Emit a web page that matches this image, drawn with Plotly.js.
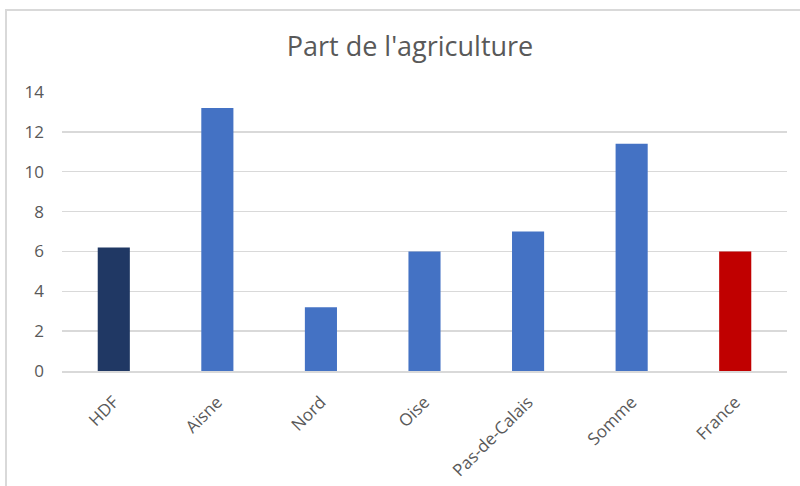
<!DOCTYPE html>
<html>
<head>
<meta charset="utf-8">
<script src="https://cdn.plot.ly/plotly-3.0.1.min.js"></script>
<style>
html,body{margin:0;padding:0;background:#fff;}
#chart{width:800px;height:486px;}
</style>
</head>
<body>
<div id="chart"></div>
<script>
const categories = ["HDF", "Aisne", "Nord", "Oise", "Pas-de-Calais", "Somme", "France"];
const values = [6.2, 13.2, 3.2, 6.0, 7.0, 11.4, 6.0];
const barColors = ["#203864", "#4472C4", "#4472C4", "#4472C4", "#4472C4", "#4472C4", "#C00000"];
const yTicks = [0, 2, 4, 6, 8, 10, 12, 14];

const trace = {
  type: "bar",
  x: categories,
  y: values,
  marker: {color: barColors, line: {width: 0}},
  width: 0.31,
  hoverinfo: "x+y"
};

const font = "'Open Sans', 'Liberation Sans', sans-serif";

const layout = {
  width: 800,
  height: 486,
  margin: {l: 62, r: 13, t: 92, b: 115},
  paper_bgcolor: "#ffffff",
  plot_bgcolor: "#ffffff",
  showlegend: false,
  title: {
    text: "Part de l'agriculture",
    font: {family: font, size: 27, color: "#595959"},
    x: 410/800, xanchor: "center",
    y: 1 - 47/486, yanchor: "middle"
  },
  xaxis: {
    type: "category",
    tickangle: -45,
    tickfont: {family: font, size: 17, color: "#595959"},
    showgrid: false,
    showline: true,
    linecolor: "#d9d9d9",
    linewidth: 1.5,
    ticks: "",
    ticklen: 0,
    ticklabelstandoff: 13,
    fixedrange: true
  },
  yaxis: {
    range: [0, 14],
    tickvals: yTicks,
    ticktext: yTicks.map(String),
    tickfont: {family: font, size: 17, color: "#595959"},
    showgrid: true,
    gridcolor: "#d9d9d9",
    gridwidth: 1.5,
    zeroline: false,
    showline: false,
    ticks: "",
    ticklabelstandoff: 17,
    fixedrange: true
  },
  shapes: [{
    type: "rect",
    xref: "paper", yref: "paper",
    x0: (6 - 62) / 725, x1: 1.2,
    y0: -0.6, y1: 1 + (92 - 10) / 279,
    line: {color: "#d9d9d9", width: 2},
    fillcolor: "rgba(0,0,0,0)",
    layer: "below"
  }]
};

Plotly.newPlot("chart", [trace], layout, {displayModeBar: false, staticPlot: true});
</script>
</body>
</html>
